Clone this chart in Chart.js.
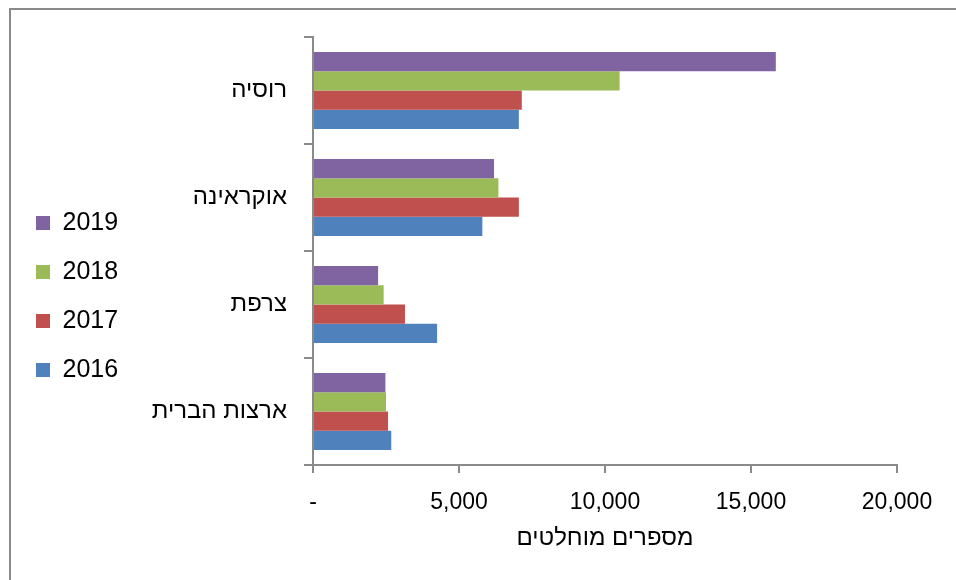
<!DOCTYPE html>
<html>
<head>
<meta charset="utf-8">
<script src="https://cdn.jsdelivr.net/npm/chart.js@4/dist/chart.umd.min.js"></script>
<style>
  body { margin: 0; background: #fff; }
  #wrap { position: relative; width: 956px; height: 580px; overflow: hidden; }
  #frame { position: absolute; left: 9px; top: 8px; width: 1000px; height: 620px;
           border-left: 2px solid #8a8a8a; border-top: 2px solid #8a8a8a; }
  canvas { position: absolute; left: 0; top: 0; }
</style>
</head>
<body>
<div id="wrap">
  <div id="frame"></div>
  <canvas id="chart" width="956" height="580"></canvas>
</div>
<script>
// countries, top to bottom
const countries = ["רוסיה", "אוקראינה", "צרפת", "ארצות הברית"];

// years, in legend order (top first)
const years = ["2019", "2018", "2017", "2016"];
const yearColors = ["#8064A2", "#9BBB59", "#C0504D", "#4F81BD"];

// values per year, same order as countries
const v2019 = [15850, 6200, 2230, 2480];
const v2018 = [10500, 6350, 2420, 2500];
const v2017 = [7150, 7050, 3150, 2570];
const v2016 = [7050, 5800, 4250, 2680];
const seriesValues = [v2019, v2018, v2017, v2016];

// x axis ticks
const xTicks = [0, 5000, 10000, 15000, 20000];
const axisTitle = "מספרים מוחלטים";

const FONT = "'Liberation Sans', Arial, sans-serif";
const AXIS = "#8a8a8a";

const datasets = years.map((y, i) => ({
  label: y,
  data: seriesValues[i],
  backgroundColor: yearColors[i],
  borderWidth: 0
}));

new Chart(document.getElementById("chart"), {
  type: "bar",
  data: { labels: countries, datasets: datasets },
  options: {
    indexAxis: "y",
    responsive: false,
    animation: false,
    devicePixelRatio: 1,
    barPercentage: 1,
    categoryPercentage: 0.72,
    layout: { padding: { left: 12, top: 37, right: 59, bottom: 24 } },
    plugins: {
      tooltip: { enabled: false },
      legend: {
        position: "left",
        labels: {
          boxWidth: 14,
          boxHeight: 14,
          padding: 24,
          color: "#000",
          font: { family: FONT, size: 25 }
        }
      }
    },
    scales: {
      x: {
        min: xTicks[0],
        max: xTicks[xTicks.length - 1],
        afterBuildTicks: s => { s.ticks = xTicks.map(v => ({ value: v })); },
        afterFit: s => { s.height = 91; },
        border: { color: AXIS, width: 2 },
        grid: { drawOnChartArea: false, drawTicks: true, tickLength: 8, color: AXIS, lineWidth: 2 },
        ticks: {
          color: "#000",
          padding: 16,
          maxRotation: 0,
          font: { family: FONT, size: 23 },
          callback: v => v === 0 ? "-" : v.toLocaleString("en-US")
        },
        title: {
          display: true,
          text: axisTitle,
          color: "#000",
          padding: { top: 0, bottom: 3 },
          font: { family: FONT, size: 24 }
        }
      },
      y: {
        afterFit: s => {
          const lw = s.chart.legend ? s.chart.legend.width : 0;
          s.width = 313 - 12 - lw;
        },
        border: { color: AXIS, width: 2 },
        grid: { offset: true, drawOnChartArea: false, drawTicks: true, tickLength: 9, color: AXIS, lineWidth: 2 },
        ticks: {
          color: "#000",
          padding: 17,
          font: { family: FONT, size: 24 }
        }
      }
    }
  }
});
</script>
</body>
</html>
